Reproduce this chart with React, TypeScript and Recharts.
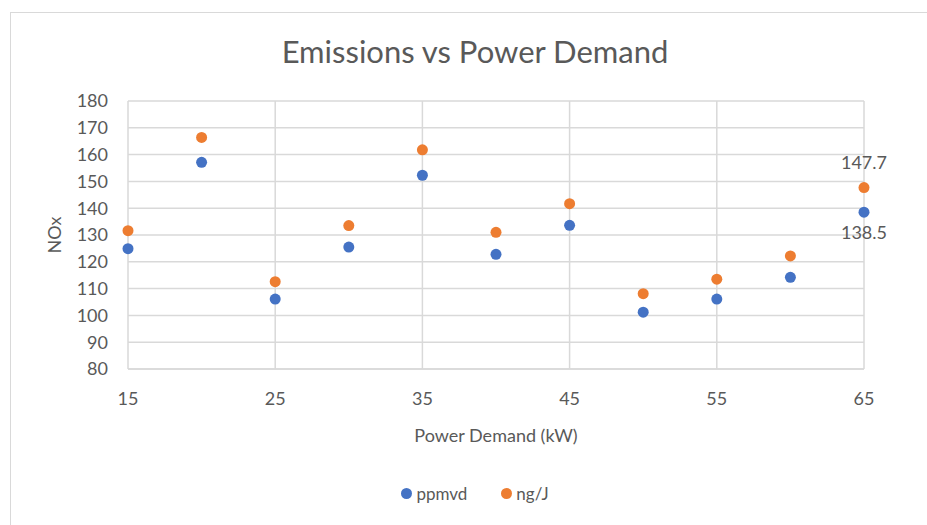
import React from "react";
import {
  ScatterChart,
  Scatter,
  XAxis,
  YAxis,
  CartesianGrid,
  Legend,
  LabelList,
} from "recharts";

// Power demand (kW) for each test point
const powerDemand = [15, 20, 25, 30, 35, 40, 45, 50, 55, 60, 65];
// NOx readings in both units
const ppmvd = [124.9, 157.1, 106.1, 125.5, 152.3, 122.8, 133.6, 101.2, 106.1, 114.2, 138.5];
const ngPerJ = [131.6, 166.4, 112.6, 133.5, 161.8, 131.0, 141.7, 108.1, 113.5, 122.2, 147.7];
// only the last point carries a data label
const labelledIndex = [10];

const xTicks = [15, 25, 35, 45, 55, 65];
const yTicks = [80, 90, 100, 110, 120, 130, 140, 150, 160, 170, 180];

const BLUE = "#4472C4";
const ORANGE = "#ED7D31";
const TEXT = "#595959";
const GRID = "#D9D9D9";
const FONT = "Lato, 'Open Sans', sans-serif";

const toPoints = (values: number[]) =>
  powerDemand.map((x, i) => ({
    x,
    y: values[i],
    label: labelledIndex.includes(i) ? values[i].toFixed(1) : "",
  }));

const ppmvdData = toPoints(ppmvd);
const ngData = toPoints(ngPerJ);

const renderLegend = () => (
  <div
    style={{
      display: "flex",
      justifyContent: "center",
      gap: 34,
      fontFamily: FONT,
      fontSize: 17,
      color: TEXT,
      paddingLeft: 86,
      paddingTop: 44,
    }}
  >
    {[
      { name: "ppmvd", color: BLUE },
      { name: "ng/J", color: ORANGE },
    ].map((s) => (
      <span key={s.name} style={{ display: "flex", alignItems: "center", gap: 4 }}>
        <svg width={11} height={11}>
          <circle cx={5.5} cy={5.5} r={5.5} fill={s.color} />
        </svg>
        {s.name}
      </span>
    ))}
  </div>
);

export default function App() {
  return (
    <div
      style={{
        position: "absolute",
        left: 0,
        top: 0,
        width: 927,
        height: 525,
        background: "#fff",
        fontFamily: FONT,
      }}
    >
      <div
        style={{
          position: "absolute",
          left: 10,
          top: 12,
          right: -2,
          bottom: -2,
          border: `1px solid ${GRID}`,
        }}
      />
      <div
        style={{
          position: "absolute",
          left: 0,
          width: 950,
          top: 32,
          textAlign: "center",
          fontSize: 31,
          color: TEXT,
        }}
      >
        Emissions vs Power Demand
      </div>
      <ScatterChart
        width={927}
        height={525}
        margin={{ top: 101, right: 63, left: 0, bottom: 0 }}
        style={{ position: "absolute", left: 0, top: 0 }}
      >
        <CartesianGrid stroke={GRID} strokeWidth={1.5} />
        <XAxis
          type="number"
          dataKey="x"
          domain={[15, 65]}
          ticks={xTicks}
          interval={0}
          axisLine={{ stroke: GRID, strokeWidth: 1.5 }}
          tickLine={false}
          tick={{ fill: TEXT, fontSize: 18, fontFamily: FONT }}
          tickMargin={17}
          height={70}
          label={{
            value: "Power Demand (kW)",
            position: "insideBottom",
            offset: -3,
            fill: TEXT,
            fontSize: 18,
            fontFamily: FONT,
          }}
        />
        <YAxis
          type="number"
          dataKey="y"
          domain={[80, 180]}
          ticks={yTicks}
          interval={0}
          axisLine={false}
          tickLine={false}
          tick={{ fill: TEXT, fontSize: 18, fontFamily: FONT }}
          tickMargin={14}
          width={128}
          label={{
            value: "NOx",
            angle: -90,
            position: "insideLeft",
            offset: 55,
            fill: TEXT,
            fontSize: 18,
            fontFamily: FONT,
            style: { textAnchor: "middle" },
          }}
        />
        <Legend verticalAlign="bottom" height={86} content={renderLegend} />
        <Scatter
          name="ppmvd"
          data={ppmvdData}
          fill={BLUE}
          isAnimationActive={false}
          shape={(p: any) => <circle cx={p.cx} cy={p.cy} r={5.5} fill={BLUE} />}
        >
          <LabelList
            dataKey="label"
            position="bottom"
            offset={9}
            fill={TEXT}
            fontSize={18}
            fontFamily={FONT}
          />
        </Scatter>
        <Scatter
          name="ng/J"
          data={ngData}
          fill={ORANGE}
          isAnimationActive={false}
          shape={(p: any) => <circle cx={p.cx} cy={p.cy} r={5.5} fill={ORANGE} />}
        >
          <LabelList
            dataKey="label"
            position="top"
            offset={14}
            fill={TEXT}
            fontSize={18}
            fontFamily={FONT}
          />
        </Scatter>
      </ScatterChart>
    </div>
  );
}
